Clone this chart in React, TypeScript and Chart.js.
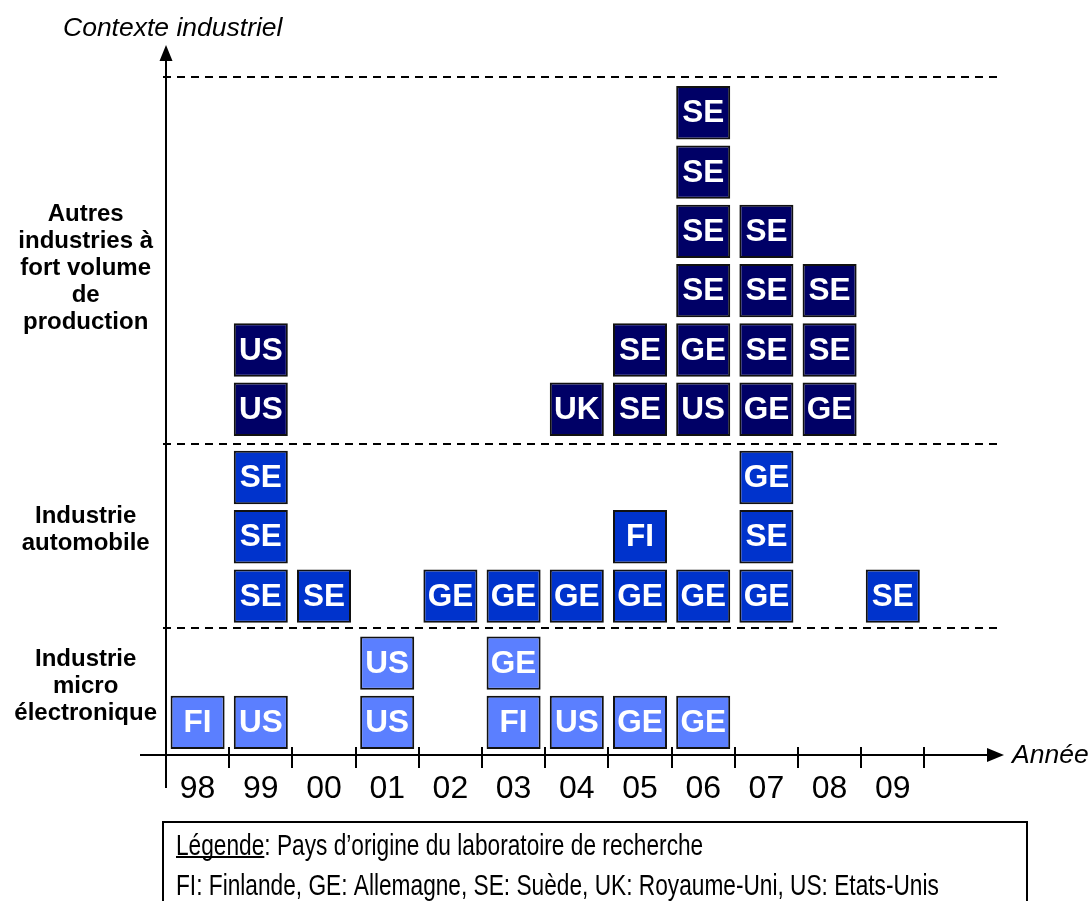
import React, { useEffect, useRef } from 'react';
import { Chart, registerables } from 'chart.js';

Chart.register(...registerables);

// ---------- data ----------
const years = ['98', '99', '00', '01', '02', '03', '04', '05', '06', '07', '08', '09'];

// country codes per year, listed bottom to top
const microStacks: string[][] = [
  ['FI'], ['US'], [], ['US', 'US'], [], ['FI', 'GE'], ['US'], ['GE'], ['GE'], [], [], [],
];
const autoStacks: string[][] = [
  [], ['SE', 'SE', 'SE'], ['SE'], [], ['GE'], ['GE'], ['GE'], ['GE', 'FI'], ['GE'], ['GE', 'SE', 'GE'], [], ['SE'],
];
const autresStacks: string[][] = [
  [], ['US', 'US'], [], [], [], [], ['UK'], ['SE', 'SE'],
  ['US', 'GE', 'SE', 'SE', 'SE', 'SE'], ['GE', 'SE', 'SE', 'SE'], ['GE', 'SE', 'SE'], [],
];

const bandNames: string[][] = [
  ['Industrie', 'micro', 'électronique'],
  ['Industrie', 'automobile'],
  ['Autres', 'industries à', 'fort volume', 'de', 'production'],
];

const yTitle = 'Contexte industriel';
const xTitle = 'Année';
const legendTitle = 'Légende';
const legendLine1 = ': Pays d’origine du laboratoire de recherche';
const legendLine2 = 'FI: Finlande, GE: Allemagne, SE: Suède, UK: Royaume-Uni, US: Etats-Unis';

// ---------- layout / style ----------
const FONT = "'Liberation Sans', Arial, Helvetica, sans-serif";
const bandColors = ['#5b7fff', '#0033cc', '#000066'];
const bandBase = [0, 2.13, 5.28];
const bandDividers = [2.15, 5.24, 11.43];
const bandLabelY = [1.16, 3.8, 8.21];

function buildDatasets() {
  const all = [microStacks, autoStacks, autresStacks];
  const ds: any[] = [];
  all.forEach((stacks, b) => {
    const maxLevel = Math.max(...stacks.map((s) => s.length));
    for (let l = 0; l < maxLevel; l++) {
      ds.push({
        label: `band${b}-level${l}`,
        data: stacks.map((s) => (s[l] ? [bandBase[b] + l + 0.1, bandBase[b] + l + 1.0] : null)),
        codes: stacks.map((s) => s[l] || null),
        backgroundColor: bandColors[b],
        borderColor: '#111111',
        borderWidth: 2,
        borderSkipped: false,
        grouped: false,
        categoryPercentage: 1,
        barPercentage: 0.855,
      });
    }
  });
  return ds;
}

const decorPlugin = {
  id: 'decor',
  beforeDatasetsDraw(chart: any) {
    const { ctx, chartArea, scales } = chart;
    const y = scales.y;
    ctx.save();
    ctx.strokeStyle = '#000';
    ctx.lineWidth = 2;
    ctx.setLineDash([8, 6]);
    bandDividers.forEach((v) => {
      const py = Math.round(y.getPixelForValue(v));
      ctx.beginPath();
      ctx.moveTo(chartArea.left - 3, py);
      ctx.lineTo(997, py);
      ctx.stroke();
    });
    ctx.restore();
  },
  afterDatasetsDraw(chart: any) {
    const { ctx } = chart;
    ctx.save();
    ctx.fillStyle = '#ffffff';
    ctx.font = `bold 31.5px ${FONT}`;
    ctx.textAlign = 'center';
    ctx.textBaseline = 'middle';
    chart.data.datasets.forEach((ds: any, i: number) => {
      const meta = chart.getDatasetMeta(i);
      meta.data.forEach((el: any, j: number) => {
        const code = ds.codes[j];
        if (!code) return;
        const p = el.getProps(['x', 'y', 'base'], true);
        ctx.fillText(code, p.x, (p.y + p.base) / 2 + 1);
      });
    });
    ctx.restore();
  },
  afterDraw(chart: any) {
    const { ctx, chartArea, scales } = chart;
    const x = scales.x;
    const axX = chartArea.left;
    const axY = chartArea.bottom;
    ctx.save();
    ctx.strokeStyle = '#000';
    ctx.fillStyle = '#000';
    ctx.lineWidth = 2;
    ctx.setLineDash([]);
    // vertical axis
    ctx.beginPath();
    ctx.moveTo(axX, 788);
    ctx.lineTo(axX, 58);
    ctx.stroke();
    ctx.beginPath();
    ctx.moveTo(axX, 45);
    ctx.lineTo(axX - 6.5, 61);
    ctx.lineTo(axX + 6.5, 61);
    ctx.closePath();
    ctx.fill();
    // horizontal axis
    ctx.beginPath();
    ctx.moveTo(140, axY);
    ctx.lineTo(990, axY);
    ctx.stroke();
    ctx.beginPath();
    ctx.moveTo(1004, axY);
    ctx.lineTo(987, axY - 7);
    ctx.lineTo(987, axY + 7);
    ctx.closePath();
    ctx.fill();
    // tick marks at the category boundaries
    const half = (x.getPixelForValue(1) - x.getPixelForValue(0)) / 2;
    years.forEach((_, i) => {
      const px = Math.round(x.getPixelForValue(i) + half);
      ctx.beginPath();
      ctx.moveTo(px, axY - 8);
      ctx.lineTo(px, axY + 13);
      ctx.stroke();
    });
    // axis titles
    ctx.font = `italic 26.5px ${FONT}`;
    ctx.textAlign = 'left';
    ctx.textBaseline = 'alphabetic';
    ctx.fillText(yTitle, 63, 36);
    ctx.fillText(xTitle, 1012, 763);
    // legend box
    ctx.lineWidth = 2;
    ctx.strokeRect(163, 822, 864, 100);
    ctx.font = `22.7px ${FONT}`;
    const sy = 1.32;
    ctx.save();
    ctx.translate(176, 855);
    ctx.scale(1, sy);
    ctx.fillText(legendTitle, 0, 0);
    const w = ctx.measureText(legendTitle).width;
    ctx.fillText(legendLine1, w, 0);
    ctx.restore();
    ctx.fillRect(176, 856, w, 2);
    ctx.save();
    ctx.translate(176, 895);
    ctx.scale(1, sy);
    ctx.fillText(legendLine2, 0, 0);
    ctx.restore();
    ctx.restore();
  },
};

function noOverflow(s: any) {
  s.paddingTop = 0;
  s.paddingBottom = 0;
  s.paddingLeft = 0;
  s.paddingRight = 0;
}

export default function App() {
  const ref = useRef<HTMLCanvasElement | null>(null);
  useEffect(() => {
    if (!ref.current) return;
    const chart = new Chart(ref.current, {
      type: 'bar',
      data: { labels: years, datasets: buildDatasets() },
      options: {
        animation: false,
        responsive: false,
        layout: { padding: { left: 0, right: 164.6, top: 43.4, bottom: 0 } },
        plugins: { legend: { display: false }, tooltip: { enabled: false }, title: { display: false } },
        scales: {
          x: {
            type: 'category',
            grid: { display: false, drawTicks: false },
            border: { display: false },
            ticks: {
              color: '#000',
              font: { family: FONT, size: 32 },
              padding: 15,
              maxRotation: 0,
              autoSkip: false,
            },
            afterFit: (s: any) => {
              s.height = 146;
              noOverflow(s);
            },
          },
          y: {
            type: 'linear',
            min: 0,
            max: 12,
            grid: { display: false, drawTicks: false },
            border: { display: false },
            afterBuildTicks: (s: any) => {
              s.ticks = bandLabelY.map((v) => ({ value: v }));
            },
            ticks: {
              autoSkip: false,
              color: '#000',
              crossAlign: 'center',
              padding: 9,
              font: { family: FONT, size: 24, weight: 'bold', lineHeight: 1.12 },
              callback: (_v: any, i: number) => bandNames[i],
            },
            afterFit: (s: any) => {
              s.width = 166;
              noOverflow(s);
            },
          },
        },
      } as any,
      plugins: [decorPlugin],
    });
    return () => chart.destroy();
  }, []);
  return (
    <div style={{ position: 'absolute', left: 0, top: 0, width: 1089, height: 901, background: '#fff' }}>
      <canvas ref={ref} width={1089} height={901} style={{ display: 'block' }} />
    </div>
  );
}
